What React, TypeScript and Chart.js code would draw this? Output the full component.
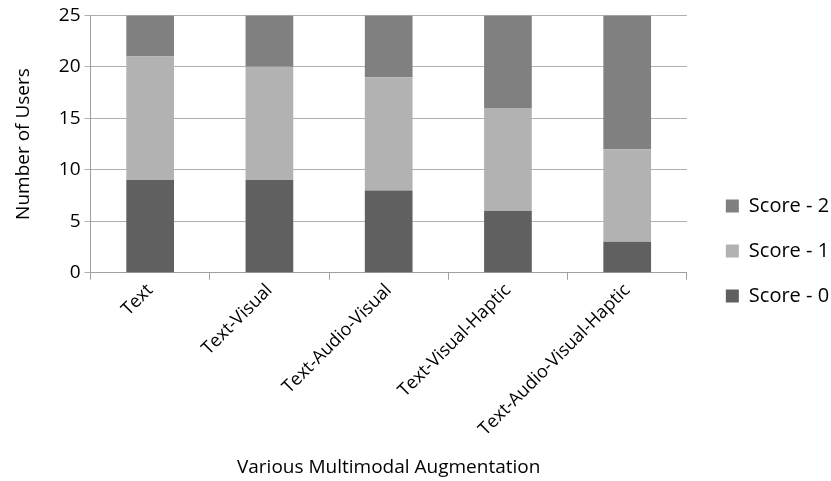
import React, { useEffect, useRef } from "react";
import { Chart, registerables } from "chart.js";

Chart.register(...registerables);

const categories = ["Text", "Text-Visual", "Text-Audio-Visual", "Text-Visual-Haptic", "Text-Audio-Visual-Haptic"];
const score0 = [9, 9, 8, 6, 3];
const score1 = [12, 11, 11, 10, 9];
const score2 = [4, 5, 6, 9, 13];
const seriesNames = ["Score - 0", "Score - 1", "Score - 2"];
const yTicks = [0, 5, 10, 15, 20, 25];

const FONT = "'Open Sans', sans-serif";

export default function App() {
  const ref = useRef<HTMLCanvasElement | null>(null);
  useEffect(() => {
    if (!ref.current) return;
    const chart = new Chart(ref.current, {
      type: "bar",
      data: {
        labels: categories,
        datasets: [
          { label: seriesNames[0], data: score0, backgroundColor: "#606060" },
          { label: seriesNames[1], data: score1, backgroundColor: "#b2b2b2" },
          { label: seriesNames[2], data: score2, backgroundColor: "#808080" },
        ],
      },
      options: {
        animation: false,
        responsive: false,
        maintainAspectRatio: false,
        datasets: { bar: { categoryPercentage: 1, barPercentage: 0.4 } },
        layout: { padding: { left: 10, right: -8, top: 11, bottom: 2 } },
        plugins: {
          tooltip: { enabled: false },
          legend: {
            position: "right",
            reverse: true,
            title: { display: true, text: " ", font: { size: 10 }, padding: 0 },
            labels: {
              boxWidth: 13,
              boxHeight: 13,
              padding: 25,
              color: "#000",
              font: { family: FONT, size: 20 },
            },
          },
        },
        scales: {
          x: {
            stacked: true,
            grid: { display: true, drawOnChartArea: false, drawTicks: true, tickLength: 7, offset: true, color: "#a0a0a0" },
            border: { display: true, color: "#a0a0a0" },
            ticks: {
              color: "#000",
              maxRotation: 45,
              minRotation: 45,
              autoSkip: false,
              padding: 0,
              font: { family: FONT, size: 18 },
            },
            title: {
              display: true,
              text: "Various Multimodal Augmentation",
              color: "#000",
              font: { family: FONT, size: 19 },
              padding: { top: 16, bottom: 0 },
            },
          },
          y: {
            stacked: true,
            min: 0,
            max: 25,
            afterBuildTicks: (axis: any) => {
              axis.ticks = yTicks.map((v) => ({ value: v }));
            },
            grid: { color: "#b0b0b0", tickLength: 6 },
            border: { display: true, color: "#a0a0a0" },
            ticks: { color: "#000", font: { family: FONT, size: 19 }, padding: 4 },
            title: {
              display: true,
              text: "Number of Users",
              color: "#000",
              font: { family: FONT, size: 19 },
              padding: { top: 2, bottom: 20 },
            },
          },
          gap: {
            type: "linear",
            position: "right",
            display: true,
            grid: { display: false },
            border: { display: false },
            ticks: { display: false },
            afterFit: (s: any) => {
              s.width = 14;
            },
          },
        },
      },
    });
    return () => chart.destroy();
  }, []);
  return (
    <div style={{ position: "fixed", left: 0, top: 0, width: 831, height: 481, background: "#fff" }}>
      <canvas ref={ref} width={831} height={481} />
    </div>
  );
}
